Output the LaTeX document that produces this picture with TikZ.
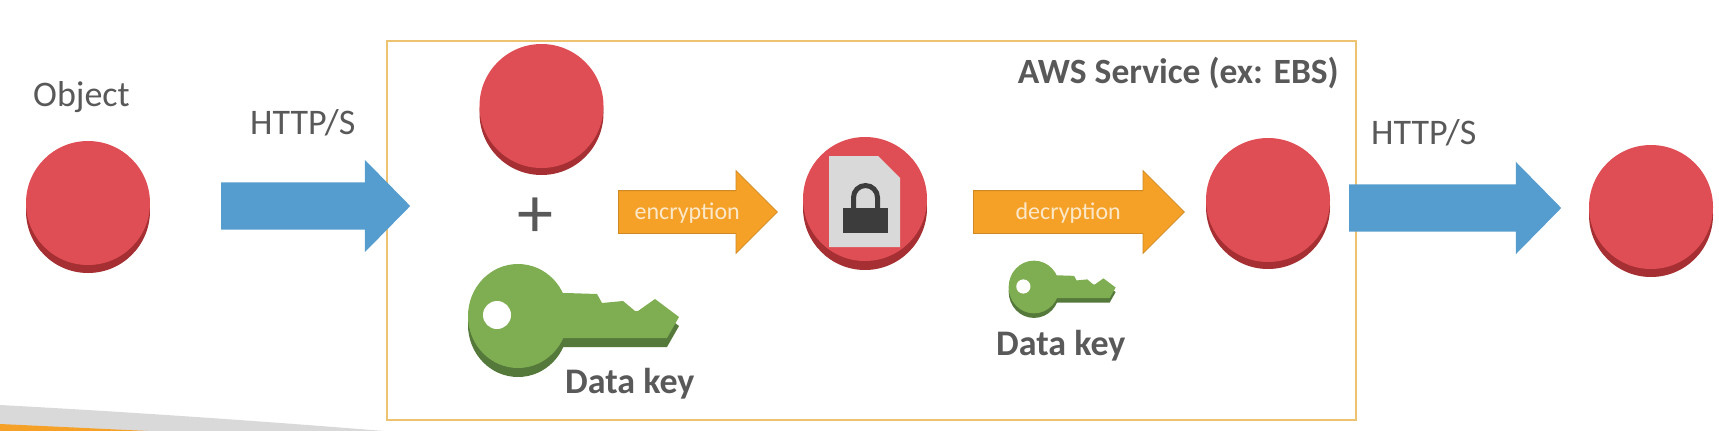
\documentclass[tikz,border=0pt]{standalone}
\usepackage{fontspec}
\setmainfont{Carlito}
\usetikzlibrary{shapes.arrows,shadows}
\definecolor{discred}{HTML}{E04E55}
\definecolor{discdark}{HTML}{A52F32}
\definecolor{keygreen}{HTML}{7FAE52}
\definecolor{keydark}{HTML}{55793A}
\definecolor{flowblue}{HTML}{559CCF}
\definecolor{floworange}{HTML}{F5A128}
\definecolor{boxgold}{HTML}{EDC372}
\definecolor{labelgray}{HTML}{595959}
\definecolor{sheetgray}{HTML}{D9D9D9}
\definecolor{lockgray}{HTML}{3C3C3C}
\tikzset{
    disc/.style={circle,fill=discred,minimum size=124pt,inner sep=0pt,
        copy shadow={fill=discdark,draw=none,shadow xshift=0pt,shadow yshift=-#1}},
    disc/.default=8pt,
    blockarrow/.style={single arrow,anchor=tail,inner sep=0pt,text height=29pt,text depth=18pt,
        single arrow head extend=22.5pt,single arrow tip angle=91,fill=flowblue},
    cryptarrow/.style={blockarrow,fill=floworange,draw=floworange!85!black,line width=.8pt,
        text=floworange!25!white,text height=28pt,text depth=14pt,
        single arrow head extend=20pt,single arrow tip angle=90,font=\fontsize{24}{24}\selectfont},
    plainlabel/.style={anchor=base west,inner sep=0pt,text=labelgray,font=\fontsize{36}{36}\selectfont},
    boldlabel/.style={plainlabel,font=\fontsize{36}{36}\selectfont\bfseries},
    pics/datakey/.style={code={
        \foreach \ky/\kc in {9/keydark,0/keygreen} {
            \fill[\kc] (0,\ky) circle [x radius=50,y radius=52];
            \fill[\kc,shift={(0,\ky)}] (30,-23) -- (48,-23) -- (79,-22) -- (84,-13) -- (105,-15) -- (117,-5)
                -- (120,-5) -- (137,-17) -- (161,1) -- (149,22) -- (30,22) -- cycle;
        }
        \fill[white] (-21,-1) circle [radius=14];
    }}
}
\begin{document}
\begin{tikzpicture}[x=1pt,y=-1pt]
    \useasboundingbox (0,0) rectangle (1719,431);

    \fill[sheetgray] (0,405) .. controls (130,412) and (260,421) .. (384,431) -- (0,431) -- cycle;
    \fill[floworange] (0,424) -- (148,431) -- (0,431) -- cycle;

    \node[draw=boxgold,line width=2pt,minimum width=969pt,minimum height=379pt,inner sep=0pt] (service) at (871.5,230.5) {};

    \node[disc] (object) at (88,203) {};
    \node[disc=7pt] (plain) at (541.5,106) {};
    \node[disc=9pt] (cipher) at (865,199) {};
    \node[disc=7pt] (output) at (1268,200) {};
    \node[disc] (client) at (1651,207) {};

    \node[blockarrow,minimum height=189pt] (upload) at (221,206) {};
    \node[blockarrow,minimum height=212pt] (download) at (1349,208) {};
    \node[cryptarrow,minimum height=159pt] (encrypt) at (618,212) {encryption};
    \node[cryptarrow,minimum height=211pt] (decrypt) at (973,212) {decryption};

    \fill[sheetgray] (829,156) -- (878,156) -- (900,178) -- (900,247) -- (829,247) -- cycle;
    \fill[lockgray] (843,208) rectangle (888,233);
    \draw[lockgray,line width=5pt] (853.5,208) -- (853.5,197.5) arc [start angle=180,end angle=360,radius=12] -- (877.5,208);

    \pic (bigkey) at (518,316) {datakey};
    \pic[scale=.507] (smallkey) at (1034,287) {datakey};

    \node[plainlabel] (objectlabel) at (33,106) {Object};
    \node[plainlabel] (uploadlabel) at (250,134) {HTTP/S};
    \node[plainlabel] (downloadlabel) at (1371,144) {HTTP/S};
    \node[plainlabel,anchor=center,font=\fontsize{72}{72}\selectfont] (plus) at (535,218) {+};
    \node[boldlabel,anchor=base east,font=\fontsize{35.5}{36}\selectfont\bfseries] (servicelabel) at (1339,83) {AWS Service (ex: EBS)};
    \node[boldlabel] (bigkeylabel) at (565,393) {Data key};
    \node[boldlabel] (smallkeylabel) at (996,355) {Data key};
\end{tikzpicture}
\end{document}
